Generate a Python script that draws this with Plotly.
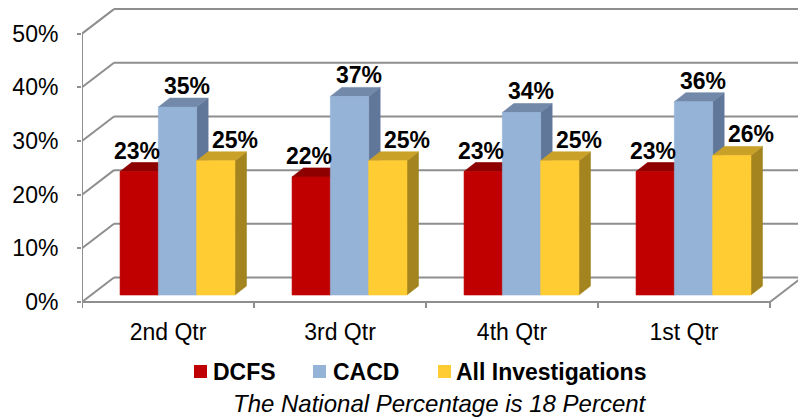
import plotly.graph_objects as go

# ---------------- data ----------------
categories = ["2nd Qtr", "3rd Qtr", "4th Qtr", "1st Qtr"]
series_names = ["DCFS", "CACD", "All Investigations"]
dcfs = [23, 22, 23, 23]
cacd = [35, 37, 34, 36]
all_investigations = [25, 25, 25, 26]
y_tick_vals = [0, 10, 20, 30, 40, 50]
y_tick_text = ["0%", "10%", "20%", "30%", "40%", "50%"]
subtitle = "The National Percentage is 18 Percent"

series_values = [dcfs, cacd, all_investigations]

# ---------------- styles ----------------
front_colors = ["#C00000", "#95B3D7", "#FFCD33"]
top_colors = ["#8E0000", "#7389A9", "#C9A129"]
side_colors = ["#8E0000", "#61779A", "#A3841F"]
label_xshift = [-2, 9, 19]
grid_color = "#8E8E8E"
FONT = "Liberation Sans, Arial, sans-serif"

# page body adds an 8px margin, compensate in figure coordinates
OFF = 8
W, H = 806, 419
M_L = 82 - OFF
M_R = W - (803 - OFF)
M_T = 0
M_B = H - (310 - OFF)
PLOT_W = W - M_L - M_R
PLOT_H = H - M_T - M_B

PX_X = 172.0      # px per category
PX_Y = 5.368      # px per percent
n = len(categories)
x_lo, x_hi = -0.5, n - 0.5
y_lo = -8 / PX_Y
y_hi = y_lo + PLOT_H / PX_Y
WALL_DX = 32 / PX_X
WALL_DY = 24.5 / PX_Y
BAR_DX = 9.5 / PX_X
BAR_DY = 7 / PX_Y
BAR_W = 38.3 / PX_X
DEPTH_DX = 11.5 / PX_X
DEPTH_DY = 9 / PX_Y


def px_to_paper_x(px):
    return (px - OFF - M_L) / PLOT_W


def px_to_paper_y(py):
    return (H - M_B - (py - OFF)) / PLOT_H


fig = go.Figure()


def poly_trace(pts_list, color):
    xs, ys = [], []
    for pts in pts_list:
        for (a, b) in pts:
            xs.append(a)
            ys.append(b)
        xs.append(pts[0][0])
        ys.append(pts[0][1])
        xs.append(None)
        ys.append(None)
    return go.Scatter(x=xs, y=ys, mode="lines", fill="toself", fillcolor=color,
                      line=dict(color=color, width=0.6), hoverinfo="skip",
                      showlegend=False)


annotations = []
for k, vals in enumerate(series_values):
    sides, tops, fronts = [], [], []
    for i, v in enumerate(vals):
        xc = i + BAR_DX + (k - 1) * BAR_W
        xl, xr = xc - BAR_W / 2, xc + BAR_W / 2
        base = BAR_DY
        top = base + v
        sides.append([(xr, base), (xr + DEPTH_DX, base + DEPTH_DY),
                      (xr + DEPTH_DX, top + DEPTH_DY), (xr, top)])
        tops.append([(xl, top), (xr, top), (xr + DEPTH_DX, top + DEPTH_DY),
                     (xl + DEPTH_DX, top + DEPTH_DY)])
        fronts.append([(xl, base), (xr, base), (xr, top), (xl, top)])
        annotations.append(dict(
            x=xc, y=top + DEPTH_DY, xref="x", yref="y", text=f"{v}%",
            showarrow=False, yanchor="bottom", xanchor="center",
            xshift=label_xshift[k], yshift=-3,
            font=dict(family=FONT, size=23, color="#000000", weight="bold")))
    fig.add_trace(poly_trace(sides, side_colors[k]))
    fig.add_trace(poly_trace(tops, top_colors[k]))
    fig.add_trace(poly_trace(fronts, front_colors[k]))

# ---------------- walls / floor ----------------
shapes = []
line = dict(color=grid_color, width=2)
for v in y_tick_vals:
    shapes.append(dict(type="line", xref="x", yref="y", layer="below",
                       x0=x_lo + WALL_DX, x1=x_hi + WALL_DX,
                       y0=v + WALL_DY, y1=v + WALL_DY, line=line))
    shapes.append(dict(type="line", xref="x", yref="y", layer="below",
                       x0=x_lo, x1=x_lo + WALL_DX,
                       y0=v, y1=v + WALL_DY, line=line))
shapes.append(dict(type="line", xref="x", yref="y", layer="below",
                   x0=x_lo, x1=x_lo, y0=0, y1=y_tick_vals[-1], line=line))
shapes.append(dict(type="line", xref="x", yref="y", layer="below",
                   x0=x_lo, x1=x_hi, y0=0, y1=0, line=line))
shapes.append(dict(type="line", xref="x", yref="y", layer="below",
                   x0=x_hi, x1=x_hi + WALL_DX, y0=0, y1=WALL_DY, line=line))
for b in range(n + 1):
    xb = x_lo + b
    shapes.append(dict(type="line", xref="x", yref="y", layer="below",
                       x0=xb, x1=xb, y0=0, y1=-6 / PX_Y, line=line))

# ---------------- legend (squares + labels) ----------------
legend_square_left = [194, 313, 438]
legend_text_left = [212, 332, 455]
LEG_CY = 371.5
SQ = 13
for k, name in enumerate(series_names):
    shapes.append(dict(type="rect", xref="paper", yref="paper",
                       x0=px_to_paper_x(legend_square_left[k]),
                       x1=px_to_paper_x(legend_square_left[k] + SQ),
                       y0=px_to_paper_y(LEG_CY + SQ / 2),
                       y1=px_to_paper_y(LEG_CY - SQ / 2),
                       fillcolor=front_colors[k], line=dict(width=0)))
    annotations.append(dict(
        x=px_to_paper_x(legend_text_left[k]), y=px_to_paper_y(LEG_CY),
        xref="paper", yref="paper", text=name, showarrow=False,
        xanchor="left", yanchor="middle", borderpad=0,
        font=dict(family=FONT, size=23, color="#000000", weight="bold")))

annotations.append(dict(
    x=px_to_paper_x(440), y=px_to_paper_y(403), xref="paper", yref="paper",
    text=subtitle, showarrow=False, xanchor="center", yanchor="middle",
    font=dict(family=FONT, size=24, color="#000000", style="italic")))

fig.update_layout(
    width=W, height=H,
    margin=dict(l=M_L, r=M_R, t=M_T, b=M_B, autoexpand=False),
    paper_bgcolor="white", plot_bgcolor="white",
    shapes=shapes, annotations=annotations,
    showlegend=False,
    xaxis=dict(range=[x_lo, x_lo + PLOT_W / PX_X], tickmode="array",
               tickvals=list(range(n)), ticktext=categories, ticks="",
               showgrid=False, zeroline=False, showline=False,
               automargin=False, ticklabelstandoff=6,
               tickfont=dict(family=FONT, size=23, color="#000000")),
    yaxis=dict(range=[y_lo, y_hi], tickmode="array", tickvals=y_tick_vals,
               ticktext=y_tick_text, ticks="outside", ticklen=4,
               tickcolor=grid_color, tickwidth=2,
               showgrid=False, zeroline=False, showline=False,
               automargin=False, ticklabelstandoff=14,
               tickfont=dict(family=FONT, size=23, color="#000000")),
)

fig.write_html("out.html")
